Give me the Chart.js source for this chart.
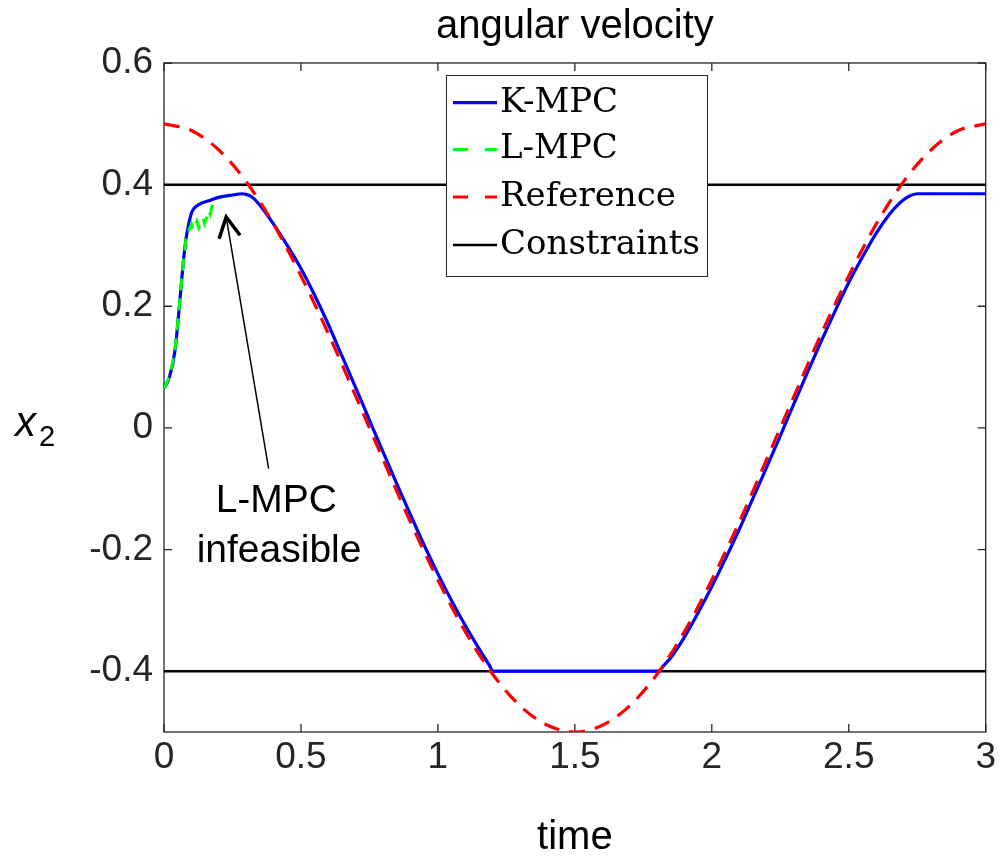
<!DOCTYPE html>
<html>
<head>
<meta charset="utf-8">
<title>angular velocity</title>
<script src="https://cdn.jsdelivr.net/npm/chart.js@4.4.0/dist/chart.umd.min.js"></script>
<style>
body { margin: 0; background: #fff; }
canvas { display: block; }
</style>
</head>
<body>
<canvas id="grafico" width="1000" height="862"></canvas>
<script>
// ejes
const xTicks = [0, 0.5, 1, 1.5, 2, 2.5, 3];
const xTickLabels = ["0", "0.5", "1", "1.5", "2", "2.5", "3"];
const yTicks = [-0.4, -0.2, 0, 0.2, 0.4, 0.6];
const yTickLabels = ["-0.4", "-0.2", "0", "0.2", "0.4", "0.6"];

const seriesNames = ["K-MPC", "L-MPC", "Reference", "Constraints"];

// Reference
const refT = [0, 0.1, 0.2, 0.3, 0.4, 0.5, 0.6, 0.7, 0.8, 0.9, 1.0, 1.1, 1.2, 1.3, 1.4, 1.5,
              1.6, 1.7, 1.8, 1.9, 2.0, 2.1, 2.2, 2.3, 2.4, 2.5, 2.6, 2.7, 2.8, 2.9, 3.0];
const refV = [0.5, 0.489, 0.457, 0.405, 0.335, 0.25, 0.155, 0.052, -0.052, -0.155, -0.25, -0.335, -0.405, -0.457, -0.489, -0.5,
              -0.489, -0.457, -0.405, -0.335, -0.25, -0.155, -0.052, 0.052, 0.155, 0.25, 0.335, 0.405, 0.457, 0.489, 0.5];

// K-MPC
const kT = [0, 0.02, 0.04, 0.06, 0.07, 0.08, 0.09, 0.1, 0.11, 0.13,
            0.16, 0.2, 0.25, 0.285, 0.3, 0.32, 0.35, 0.4, 0.45, 0.5,
            0.55, 0.6, 0.65, 0.7, 0.75, 0.8, 0.85, 0.9, 0.95, 1.0,
            1.05, 1.1, 1.15, 1.19, 1.2, 1.5, 1.81, 1.82, 1.85, 1.9, 1.95, 2.0,
            2.05, 2.1, 2.15, 2.2, 2.25, 2.3, 2.35, 2.4, 2.45, 2.5,
            2.55, 2.6, 2.65, 2.68, 2.7, 2.72, 2.75, 2.8, 3.0];
const kV = [0.065, 0.084, 0.127, 0.22, 0.27, 0.31, 0.335, 0.353, 0.361, 0.368,
            0.373, 0.379, 0.383, 0.385, 0.384, 0.38, 0.366, 0.335, 0.300, 0.262,
            0.218, 0.170, 0.118, 0.066, 0.013, -0.040, -0.092, -0.143, -0.193, -0.240,
            -0.284, -0.325, -0.363, -0.392, -0.4, -0.4, -0.4, -0.393, -0.378, -0.344, -0.304, -0.261,
            -0.215, -0.167, -0.116, -0.065, -0.013, 0.040, 0.092, 0.143, 0.192, 0.239,
            0.281, 0.32, 0.352, 0.367, 0.375, 0.381, 0.385, 0.385, 0.385];

// L-MPC
const lT = [0, 0.02, 0.04, 0.06, 0.07, 0.08, 0.091, 0.0996, 0.105, 0.12, 0.127, 0.142, 0.148, 0.164, 0.169, 0.181];
const lV = [0.065, 0.084, 0.127, 0.22, 0.27, 0.31, 0.325, 0.335, 0.326, 0.340, 0.329, 0.344, 0.336, 0.357, 0.351, 0.377];

// Constraints
const cT = [0, 3];
const cUpper = [0.4, 0.4];
const cLower = [-0.4, -0.4];

const fuente = '"Liberation Sans", Arial, Helvetica, sans-serif';

function puntos(ts, vs) {
    return ts.map((t, i) => ({ x: t, y: vs[i] }));
}

const marco = {
    id: 'marco',
    beforeDatasetsDraw(chart) {
        const { ctx, chartArea: a, scales: { x, y } } = chart;
        ctx.save();
        ctx.strokeStyle = '#262626';
        ctx.lineWidth = 1.3;
        ctx.strokeRect(a.left, a.top, a.right - a.left, a.bottom - a.top);
        ctx.beginPath();
        xTicks.forEach(v => {
            const px = x.getPixelForValue(v);
            ctx.moveTo(px, a.bottom); ctx.lineTo(px, a.bottom - 8);
            ctx.moveTo(px, a.top); ctx.lineTo(px, a.top + 8);
        });
        yTicks.forEach(v => {
            const py = y.getPixelForValue(v);
            ctx.moveTo(a.left, py); ctx.lineTo(a.left + 8, py);
            ctx.moveTo(a.right, py); ctx.lineTo(a.right - 8, py);
        });
        ctx.stroke();
        ctx.restore();
    },
    afterDraw(chart) {
        const { ctx, chartArea: a, scales: { x, y } } = chart;
        ctx.save();

        // titulo
        ctx.fillStyle = '#000';
        ctx.font = '40px ' + fuente;
        ctx.textAlign = 'center';
        ctx.textBaseline = 'alphabetic';
        ctx.fillText('angular velocity', (a.left + a.right) / 2, 38);

        // etiqueta y: x2
        ctx.textAlign = 'left';
        ctx.font = 'italic 42px ' + fuente;
        ctx.fillText('x', 15, 436);
        ctx.font = '29px ' + fuente;
        ctx.fillText('2', 39, 446);

        // anotacion: flecha
        const base = { x: x.getPixelForValue(0.382), y: y.getPixelForValue(-0.067) };
        const tip = { x: x.getPixelForValue(0.227), y: y.getPixelForValue(0.347) };
        const ang = Math.atan2(base.y - tip.y, base.x - tip.x);
        ctx.strokeStyle = '#000';
        ctx.lineWidth = 1.5;
        ctx.beginPath();
        ctx.moveTo(base.x, base.y);
        ctx.lineTo(tip.x + Math.cos(ang) * 2, tip.y + Math.sin(ang) * 2);
        ctx.stroke();
        ctx.lineWidth = 3.5;
        ctx.lineJoin = 'miter';
        ctx.beginPath();
        ctx.moveTo(tip.x + Math.cos(ang + 0.48) * 23, tip.y + Math.sin(ang + 0.48) * 23);
        ctx.lineTo(tip.x, tip.y);
        ctx.lineTo(tip.x + Math.cos(ang - 0.48) * 23, tip.y + Math.sin(ang - 0.48) * 23);
        ctx.stroke();

        ctx.fillStyle = '#000';
        ctx.font = '39px ' + fuente;
        ctx.textAlign = 'center';
        ctx.fillText('L-MPC', x.getPixelForValue(0.41), y.getPixelForValue(-0.1385));
        ctx.fillText('infeasible', x.getPixelForValue(0.42), y.getPixelForValue(-0.2207));

        // leyenda
        const lx = 446, ly = 75, lw = 261, lh = 201;
        ctx.fillStyle = '#fff';
        ctx.fillRect(lx, ly, lw, lh);
        ctx.strokeStyle = '#262626';
        ctx.lineWidth = 1;
        ctx.strokeRect(lx + 0.5, ly + 0.5, lw, lh);
        const filas = [102.7, 149.5, 197, 245];
        const ds = chart.data.datasets;
        ctx.font = '34px "DejaVu Serif", serif';
        ctx.textAlign = 'left';
        ctx.textBaseline = 'middle';
        for (let i = 0; i < seriesNames.length; i++) {
            const d = ds[i];
            ctx.strokeStyle = d.borderColor;
            ctx.lineWidth = d.borderWidth;
            ctx.setLineDash(d.borderDash && d.borderDash.length ? [15, 17] : []);
            ctx.beginPath();
            ctx.moveTo(453, filas[i]);
            ctx.lineTo(497, filas[i]);
            ctx.stroke();
            ctx.setLineDash([]);
            ctx.fillStyle = '#000';
            ctx.fillText(seriesNames[i], 500, filas[i]);
        }
        ctx.restore();
    }
};

function graficar() {
    const ctx = document.getElementById('grafico').getContext('2d');
    new Chart(ctx, {
        type: 'line',
        data: {
            datasets: [
                {
                    label: seriesNames[0], data: puntos(kT, kV),
                    borderColor: '#0000ff', borderWidth: 3.2, cubicInterpolationMode: 'monotone',
                    pointRadius: 0, order: 3
                },
                {
                    label: seriesNames[1], data: puntos(lT, lV),
                    borderColor: '#00ff00', borderWidth: 3, borderDash: [12, 8], tension: 0,
                    pointRadius: 0, order: 2
                },
                {
                    label: seriesNames[2], data: puntos(refT, refV),
                    borderColor: '#ff0000', borderWidth: 3.2, borderDash: [16, 10], cubicInterpolationMode: 'monotone',
                    pointRadius: 0, order: 1
                },
                {
                    label: seriesNames[3], data: puntos(cT, cUpper),
                    borderColor: '#000000', borderWidth: 2.5, pointRadius: 0, order: 4
                },
                {
                    label: seriesNames[3], data: puntos(cT, cLower),
                    borderColor: '#000000', borderWidth: 2.5, pointRadius: 0, order: 4
                }
            ]
        },
        options: {
            responsive: false,
            animation: false,
            layout: { padding: { top: 63, right: 11, left: 0, bottom: 0 } },
            plugins: {
                legend: { display: false },
                tooltip: { enabled: false }
            },
            scales: {
                x: {
                    type: 'linear', min: 0, max: 3,
                    grid: { display: false, drawTicks: false },
                    border: { display: false },
                    afterBuildTicks: s => { s.ticks = xTicks.map(v => ({ value: v })); },
                    afterFit: s => { s.height = 130; },
                    ticks: {
                        padding: 4, color: '#262626', maxRotation: 0,
                        font: { family: fuente, size: 37 },
                        callback: (v) => xTickLabels[xTicks.indexOf(v)]
                    },
                    title: {
                        display: true, text: 'time', color: '#000',
                        font: { family: fuente, size: 40 },
                        padding: { top: 0, bottom: 0 }
                    }
                },
                y: {
                    type: 'linear', min: -0.5, max: 0.6,
                    grid: { display: false, drawTicks: false },
                    border: { display: false },
                    afterBuildTicks: s => { s.ticks = yTicks.map(v => ({ value: v })); },
                    afterFit: s => { s.width = 164; },
                    ticks: {
                        padding: 11, color: '#262626',
                        font: { family: fuente, size: 37 },
                        callback: (v) => yTickLabels[yTicks.indexOf(v)]
                    }
                }
            }
        },
        plugins: [marco]
    });
}

window.addEventListener('load', graficar);
</script>
</body>
</html>
